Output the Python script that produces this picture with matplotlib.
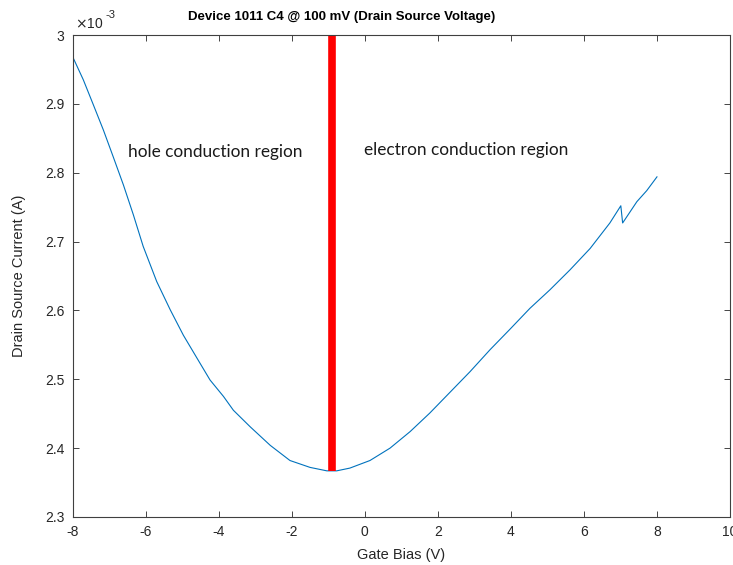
import matplotlib
matplotlib.use("Agg")
import matplotlib.pyplot as plt

plt.rcParams['font.family'] = ['Liberation Sans', 'DejaVu Sans']
plt.rcParams['axes.unicode_minus'] = False

# Gate bias (V) and drain-source current (in units of 1e-3 A)
gate_bias = [-7.98, -7.71, -7.43, -7.16, -6.89, -6.61, -6.34, -6.07, -5.70, -5.33,
             -4.97, -4.60, -4.24, -3.87, -3.60, -3.14, -2.59, -2.05, -1.50, -1.04,
             -0.77, -0.41, 0.14, 0.69, 1.24, 1.78, 2.33, 2.88, 3.43, 3.98,
             4.52, 5.07, 5.62, 6.17, 6.71, 7.01, 7.06, 7.45, 7.72, 8.00]
current_mA = [2.966, 2.935, 2.898, 2.862, 2.823, 2.782, 2.739, 2.693, 2.642, 2.601,
              2.564, 2.531, 2.499, 2.475, 2.455, 2.431, 2.404, 2.382, 2.372, 2.367,
              2.367, 2.371, 2.382, 2.400, 2.424, 2.451, 2.481, 2.511, 2.543, 2.573,
              2.603, 2.630, 2.659, 2.690, 2.727, 2.752, 2.727, 2.758, 2.774, 2.794]

dirac_point = -0.91
dirac_current = 2.367

x_ticks = [-8, -6, -4, -2, 0, 2, 4, 6, 8, 10]
y_ticks = [2.3, 2.4, 2.5, 2.6, 2.7, 2.8, 2.9, 3.0]
y_tick_labels = ['2.3', '2.4', '2.5', '2.6', '2.7', '2.8', '2.9', '3']

fig = plt.figure(figsize=(7.33, 5.65), dpi=100)
ax = fig.add_axes([0.0992, 0.085, 0.8967, 0.853])

ax.plot(gate_bias, current_mA, color='#0072BD', lw=0.8)
ax.plot([dirac_point, dirac_point], [dirac_current, 3.0], color='#FF0000', lw=5.5,
        solid_capstyle='butt', clip_on=False)

ax.set_xlim(-8, 10)
ax.set_ylim(2.3, 3.0)
ax.set_xticks(x_ticks)
ax.set_xticklabels([str(v) for v in x_ticks])
ax.set_yticks(y_ticks)
ax.set_yticklabels(y_tick_labels)

tc = '#262626'
ax.tick_params(direction='in', length=4.5, width=0.6, top=True, right=True,
               labelsize=10, colors=tc, pad=6)
for s in ax.spines.values():
    s.set_color('#404040')
    s.set_linewidth(0.8)

ax.set_xlabel('Gate Bias (V)', fontsize=10.5, color=tc, labelpad=6)
ax.set_ylabel('Drain Source Current (A)', fontsize=10.5, color=tc, labelpad=14)

fig.text(75 / 733, 1 - 24 / 565, r'$\times$10', fontsize=10, color=tc, va='center', ha='left')
fig.text(105 / 733, 1 - 15 / 565, '-3', fontsize=8, color=tc, va='center', ha='left')

fig.text(342 / 733, 1 - 17 / 565, 'Device 1011 C4 @ 100 mV (Drain Source Voltage)',
         fontsize=9.5, fontweight='bold', ha='center', va='center', color='black')

ax.text(-6.48, 2.830, 'hole conduction region', fontsize=12.4, family=['Lato', 'DejaVu Sans'],
        color='#1a1a1a', ha='left', va='center')
ax.text(-0.03, 2.833, 'electron conduction region', fontsize=12.4, family=['Lato', 'DejaVu Sans'],
        color='#1a1a1a', ha='left', va='center')

fig.savefig('out.png', dpi=100)
